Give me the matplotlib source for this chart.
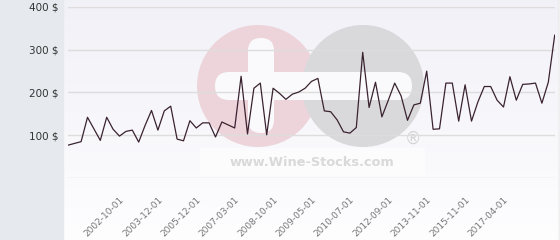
import numpy as np
import matplotlib.pyplot as plt
from matplotlib.patches import Rectangle, Circle, FancyBboxPatch

# prices ($), one per point
prices = [77, 81, 85, 142, 115, 88, 142, 114, 98, 109,
          112, 84, 123, 158, 112, 157, 168, 91, 87, 134,
          117, 129, 129, 96, 131, 124, 117, 238, 103, 210,
          222, 101, 210, 198, 184, 196, 201, 210, 226, 233,
          157, 155, 136, 108, 105, 118, 294, 165, 224, 143,
          182, 222, 192, 135, 171, 175, 250, 114, 115, 222,
          222, 133, 218, 133, 178, 214, 214, 182, 166, 237,
          182, 219, 220, 222, 175, 224, 334]
label_idx = [9, 15, 21, 27, 33, 39, 45, 51, 57, 63, 69]
labels = ['2002-10-01', '2003-12-01', '2005-12-01', '2007-03-01', '2008-10-01',
          '2009-05-01', '2010-07-01', '2012-09-01', '2013-11-01', '2015-11-01',
          '2017-04-01']
yticks = [100, 200, 300, 400]

fig = plt.figure(figsize=(5.6, 2.4), dpi=100)

# background layer in pixel coordinates
bg = fig.add_axes([0, 0, 1, 1], zorder=0)
bg.set_xlim(0, 560)
bg.set_ylim(240, 0)
bg.axis('off')
grad = np.linspace(0, 1, 100).reshape(-1, 1)
top = np.array([0.945, 0.945, 0.97])
bot = np.array([0.995, 0.995, 1.0])
img = top + (bot - top) * grad[..., None]
bg.imshow(img, extent=(63.5, 558, 240, 0), aspect='auto', zorder=0)
bg.add_patch(Rectangle((0, 0), 63, 240, color='#e6eaee', zorder=1))
bg.plot([558.5, 558.5], [0, 240], color='#d9d9d9', lw=1, zorder=1)
bg.add_patch(Rectangle((560 - 1.5, 0), 1.5, 240, color='#f0f0f0', zorder=1))

# watermark
bg.add_patch(Rectangle((200, 148), 225, 28, color='white', alpha=0.55, lw=0, zorder=1))
bg.add_patch(Circle((258, 86), 61, color='#ecd4da', lw=0, zorder=2))
bg.add_patch(Circle((363, 86), 61, color='#d9d9db', lw=0, zorder=2))
bg.add_patch(FancyBboxPatch((215, 72), 197, 28, boxstyle='round,pad=0,rounding_size=14',
                            color='#fafafc', lw=0, zorder=3))
bg.add_patch(FancyBboxPatch((248, 38), 26, 95, boxstyle='round,pad=0,rounding_size=13',
                            color='#fafafc', lw=0, zorder=3))
bg.text(312, 162, 'www.Wine-Stocks.com', ha='center', va='center', fontsize=9.3,
        fontweight='bold', color='#d9d9d9', zorder=3)
bg.text(413, 139, '®', ha='center', va='center', fontsize=12, color='#d4d4d4', zorder=3)

ax = fig.add_axes([68.3 / 560, 62 / 240, (554.7 - 68.3) / 560, 171 / 240], zorder=1)
ax.patch.set_visible(False)
x = np.arange(len(prices))
ax.plot(x, prices, color='#3a2230', lw=0.9, zorder=3)
ax.set_xlim(0, len(prices) - 1)
ax.set_ylim(0, 400)
for v in [0] + yticks:
    ax.axhline(v, color='#dddddd', lw=1, zorder=1)
ax.set_yticks(yticks)
ax.set_yticklabels([f'{v} $' for v in yticks], fontsize=7.5, color='#333333')
ax.set_xticks(label_idx)
ax.set_xticklabels(labels, rotation=45, ha='right', va='top', fontsize=6.5, color='#777777')
ax.tick_params(axis='both', length=0)
ax.tick_params(axis='y', pad=7)
ax.tick_params(axis='x', pad=12)
for s in ax.spines.values():
    s.set_visible(False)

fig.savefig('out.png', dpi=100)
